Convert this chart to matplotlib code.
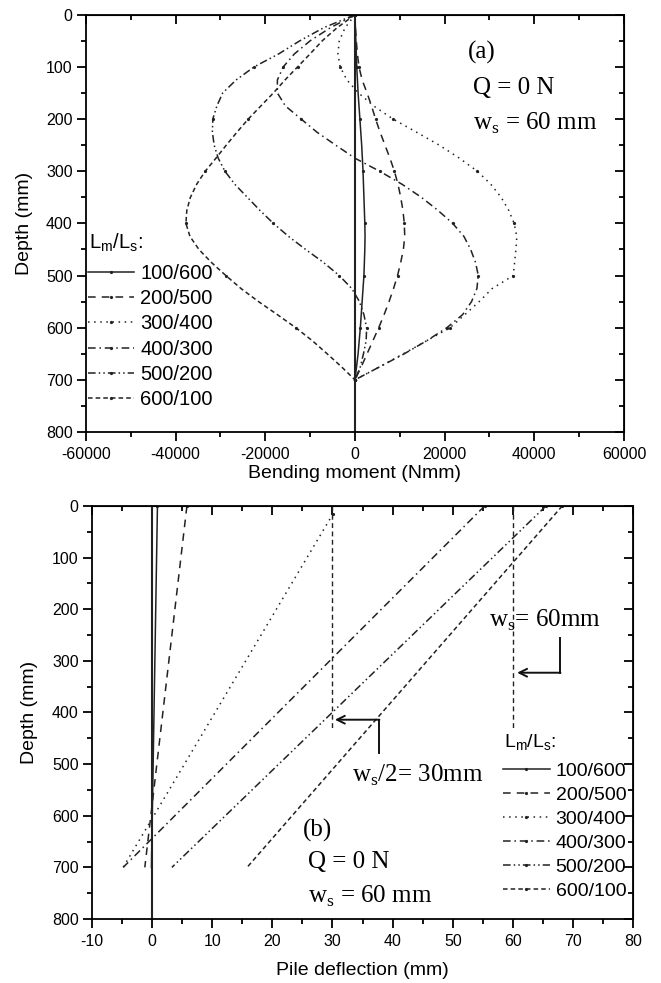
import numpy as np
import matplotlib
matplotlib.use('Agg')
import matplotlib.pyplot as plt
from matplotlib.ticker import MultipleLocator

plt.rcParams['font.family'] = 'Liberation Sans'
plt.rcParams['axes.unicode_minus'] = False
plt.rcParams['mathtext.fontset'] = 'custom'
plt.rcParams['mathtext.rm'] = 'Liberation Serif'
plt.rcParams['mathtext.sf'] = 'Liberation Sans'

labels = ['100/600', '200/500', '300/400', '400/300', '500/200', '600/100']

depth_a = np.arange(0, 701, 25)
m_100_600 = [0, 100, 200, 300, 400, 550, 700, 900, 1100, 1300, 1500, 1650, 1800, 1900, 2000,
             2100, 2200, 2250, 2200, 2100, 2000, 1800, 1600, 1400, 1200, 950, 700, 350, 0]
m_200_500 = [0, 100, 300, 550, 900, 1600, 2700, 3700, 4600, 5600, 6700, 7800, 8800, 9600, 10200,
             10700, 11000, 11100, 10800, 10200, 9500, 8600, 7600, 6500, 5300, 4000, 2700, 1400, 0]
m_300_400 = [0, -2200, -3500, -3800, -3300, -1800, 800, 4200, 8500, 13700, 18800, 23300, 27300,
             30300, 32600, 34300, 35500, 36100, 35900, 35600, 35300, 30600, 27700, 24500, 21200,
             16000, 10800, 5500, 0]
m_400_300 = [0, -5500, -10000, -13500, -16000, -17300, -17300, -15500, -12000, -8500, -4300, 0,
             5500, 10500, 14800, 18500, 21800, 24300, 25800, 26900, 27500, 27200, 26000, 24000,
             20500, 16000, 11000, 5500, 0]
m_500_200 = [0, -7000, -12300, -17000, -22500, -26500, -29500, -30800, -31700, -31800, -31400,
             -30500, -29000, -26800, -24000, -21200, -18200, -14800, -11000, -7000, -3500, -700,
             1000, 2000, 2600, 2500, 1900, 1200, 0]
m_600_100 = [0, -4000, -7300, -10000, -12800, -15600, -18200, -21000, -23800, -26300, -28700,
             -31000, -33400, -35300, -36700, -37500, -37700, -36800, -34800, -32000, -28800,
             -25400, -21500, -17300, -13200, -9500, -6200, -3000, 0]
moments = [m_100_600, m_200_500, m_300_400, m_400_300, m_500_200, m_600_100]

# (b) pile deflection (mm): straight lines, value at top and at 700 mm
defl_top = [0.9, 5.8, 30.1, 55.3, 65.5, 68.2]
defl_top_depth = [0, 0, 15, 0, 0, 0]
defl_tip = [-0.1, -1.2, -4.8, -4.8, 3.3, 15.8]
defl_tip_depth = 700
ref_defl = [30, 60]   # w_s/2 and w_s
ref_depth = [0, 430]

styles = ['-', (0, (5, 4)), (0, (1, 3)), (0, (5, 2.5, 1, 2.5)),
          (0, (5, 2, 1, 2, 1, 2)), (0, (3, 2))]

fig = plt.figure(figsize=(6.61, 9.83), dpi=100)
ax1 = fig.add_axes([0.130, 0.5605, 0.814, 0.4245])
ax2 = fig.add_axes([0.139, 0.0651, 0.819, 0.4202])

serif = dict(family='Liberation Serif', fontsize=18)
leg_title = r'L$_\mathsf{m}$/L$_\mathsf{s}$:'


def style_axes(ax, xmaj, xmin):
    ax.set_ylim(800, 0)
    ax.yaxis.set_major_locator(MultipleLocator(100))
    ax.yaxis.set_minor_locator(MultipleLocator(50))
    ax.xaxis.set_major_locator(MultipleLocator(xmaj))
    ax.xaxis.set_minor_locator(MultipleLocator(xmin))
    for s in ax.spines.values():
        s.set_linewidth(1.3)
    ax.tick_params(which='both', direction='out', width=1.3, labelsize=11.5)
    ax.tick_params(which='major', length=6.5)
    ax.tick_params(which='minor', length=3.3)
    ax.tick_params(axis='y', pad=3)
    ax.tick_params(axis='x', pad=4)
    top = ax.secondary_xaxis('top')
    top.xaxis.set_major_locator(MultipleLocator(xmaj))
    top.xaxis.set_minor_locator(MultipleLocator(xmin))
    top.tick_params(which='both', direction='in', width=1.3, labeltop=False)
    top.tick_params(which='major', length=6.5)
    top.tick_params(which='minor', length=3.3)
    right = ax.secondary_yaxis('right')
    right.yaxis.set_major_locator(MultipleLocator(100))
    right.yaxis.set_minor_locator(MultipleLocator(50))
    right.tick_params(which='both', direction='in', width=1.3, labelright=False)
    right.tick_params(which='major', length=6.5)
    right.tick_params(which='minor', length=3.3)
    ax.set_ylabel('Depth (mm)', fontsize=14)


# ---- (a) ----
ax1.axvline(0, color='#222222', lw=1.5)
for lab, m, ls in zip(labels, moments, styles):
    ax1.plot(m, depth_a, ls=ls, color='#222222', lw=1.1, marker='o',
             markersize=1.3, markevery=4, label=lab)
ax1.set_xlim(-60000, 60000)
style_axes(ax1, 20000, 10000)
ax1.set_xlabel('Bending moment (Nmm)', fontsize=14)
ax1.xaxis.set_label_coords(0.5, -0.08)
ax1.yaxis.set_label_coords(-0.098, 0.5)
ax1.text(25200, 73, '(a)', va='center', **serif)
ax1.text(26300, 140, 'Q = 0 N', va='center', **serif)
ax1.text(26300, 208, r'w$_\mathrm{s}$ = 60 mm', va='center', **serif)
fig.text(0.134, 1 - 243 / 983, leg_title, fontsize=14.5, va='center')
ax1.legend(loc='upper left', bbox_to_anchor=(0.133, 1 - 264 / 983),
           bbox_transform=fig.transFigure, frameon=False, fontsize=14.5,
           handlelength=2.3, handletextpad=0.3,
           labelspacing=0.31, borderpad=0, borderaxespad=0, numpoints=1)

# ---- (b) ----
ax2.axvline(0, color='#222222', lw=1.5)
for lab, x0, d0, x1, ls in zip(labels, defl_top, defl_top_depth, defl_tip, styles):
    ax2.plot([x0, x1], [d0, defl_tip_depth], ls=ls, color='#222222', lw=1.1,
             marker='o', markersize=1.3, markevery=[0], label=lab)
for x in ref_defl:
    ax2.plot([x, x], ref_depth, ls=(0, (3.5, 2.5)), color='#222222', lw=1.0)
ax2.set_xlim(-10, 80)
style_axes(ax2, 10, 5)
ax2.set_xlabel('Pile deflection (mm)', fontsize=14)
ax2.xaxis.set_label_coords(0.5, -0.103)
ax2.yaxis.set_label_coords(-0.1, 0.5)

arrow = dict(arrowstyle='->', lw=1.4, color='#111111', shrinkA=0, shrinkB=0,
             mutation_scale=14)
ax2.plot([67.9, 67.9], [256, 323], color='#111111', lw=1.4)
ax2.annotate('', xy=(60.7, 323), xytext=(67.9, 323), arrowprops=arrow)
ax2.plot([37.8, 37.8], [414, 478], color='#111111', lw=1.4)
ax2.annotate('', xy=(30.4, 414), xytext=(37.8, 414), arrowprops=arrow)

ax2.text(56.1, 221, r'w$_\mathrm{s}$= 60mm', va='center', **serif)
ax2.text(33.3, 521, r'w$_\mathrm{s}$/2= 30mm', va='center', **serif)
ax2.text(25, 628, '(b)', va='center', **serif)
ax2.text(26, 690, 'Q = 0 N', va='center', **serif)
ax2.text(26, 757, r'w$_\mathrm{s}$ = 60 mm', va='center', **serif)

fig.text(0.763, 1 - 743 / 983, leg_title, fontsize=14, va='center')
ax2.legend(loc='upper left', bbox_to_anchor=(0.761, 1 - 762 / 983),
           bbox_transform=fig.transFigure, frameon=False, fontsize=14,
           handlelength=2.4, handletextpad=0.3,
           labelspacing=0.33, borderpad=0, borderaxespad=0, numpoints=1)

fig.savefig('out.png', dpi=100)
